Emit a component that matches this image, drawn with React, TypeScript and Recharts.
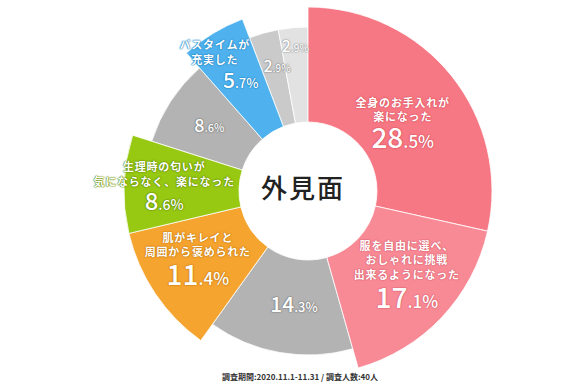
import React from 'react';
import { PieChart, Pie, Cell } from 'recharts';

const categories = [
  '全身のお手入れが\n楽になった',
  '服を自由に選べ、\nおしゃれに挑戦\n出来るようになった',
  'その他A',
  '肌がキレイと\n周囲から褒められた',
  '生理時の匂いが\n気にならなく、楽になった',
  'その他B',
  'バスタイムが\n充実した',
  'その他C',
  'その他D',
];
const values = [28.5, 17.1, 14.3, 11.4, 8.6, 8.6, 5.7, 2.9, 2.9];
const highlighted = [true, true, false, true, true, false, true, false, false];

const colors = ['#f67884', '#f88a96', '#b3b3b3', '#f5a42f', '#97c812', '#b3b3b3', '#4fb2ee', '#cacaca', '#e2e2e2'];
const shadows = ['#d8505e', '#d8606e', '#7a7a7a', '#c47a10', '#5f8a00', '#7a7a7a', '#2280bf', '#8a8a8a', '#9a9a9a'];

// label anchor (centre of the number's baseline), polar from the pie centre
const labelRadius = [104, 153, 122, 145, 145, 115, 139, 123, 140];
const labelAngleShift = [14.3, 6.4, -3.3, -6.7, -9.5, -2.2, -11, 1.1, 0];
const titleGap = [27, 29, 0, 29, 24, 0, 24, 0, 0];
const numberSize = [28, 28, 21, 28, 24, 18, 21, 16, 16];
const numberShift = [0, 0, 0, 0, 0, 0, 26, 0, 0];

const CX = 303;
const CY = 186;
const INNER = 69;
const OUTER_BIG = 184;
const OUTER = 164;
const FONT = '"Noto Sans CJK JP", "Noto Sans", sans-serif';

const data = categories.map((name, i) => ({ name, value: values[i] }));

const renderLabel = (props: any) => {
  const { cx, cy, midAngle, index } = props;
  const rad = Math.PI / 180;
  const r = labelRadius[index];
  const a = midAngle - labelAngleShift[index];
  const x = cx + r * Math.cos(-a * rad);
  const y = cy + r * Math.sin(-a * rad);
  const [intPart, decPart] = String(values[index]).split('.');
  const s = shadows[index];
  const shadow = `0 0 1px ${s}, 0 0 1px ${s}, 0 0 2px ${s}`;
  const big = numberSize[index];
  const small = Math.round(big * 0.6);

  const number = (
    <text
      x={x + numberShift[index]}
      y={y}
      textAnchor="middle"
      fill="#fff"
      fontFamily={FONT}
      fontWeight={500}
      style={{ textShadow: shadow }}
    >
      <tspan fontSize={big}>{intPart}</tspan>
      <tspan fontSize={small}>.{decPart}%</tspan>
    </text>
  );

  if (!highlighted[index]) return number;

  const lines = categories[index].split('\n');
  const n = lines.length;
  const lastBase = y - titleGap[index];
  return (
    <g>
      {lines.map((line, i) => (
        <text
          key={i}
          x={x}
          y={lastBase - (n - 1 - i) * 14.5}
          textAnchor="middle"
          fill="#fff"
          fontFamily={FONT}
          fontSize={11}
          fontWeight={700}
          letterSpacing={0.8}
          style={{ textShadow: shadow }}
        >
          {line}
        </text>
      ))}
      {number}
    </g>
  );
};

const App: React.FC = () => {
  return (
    <div style={{ position: 'absolute', left: 0, top: 0, width: 580, height: 387, background: '#fff' }}>
      <PieChart width={580} height={387}>
        <Pie
          data={data}
          dataKey="value"
          nameKey="name"
          cx={CX}
          cy={CY}
          innerRadius={INNER}
          outerRadius={OUTER}
          startAngle={90}
          endAngle={-270}
          isAnimationActive={false}
          label={false}
          labelLine={false}
        >
          {data.map((_, i) => (
            <Cell
              key={i}
              fill={highlighted[i] ? 'transparent' : colors[i]}
              stroke={highlighted[i] ? 'none' : '#fff'}
              strokeWidth={0.8}
            />
          ))}
        </Pie>
        <Pie
          data={data}
          dataKey="value"
          nameKey="name"
          cx={CX}
          cy={CY}
          innerRadius={INNER}
          outerRadius={OUTER_BIG}
          startAngle={90}
          endAngle={-270}
          isAnimationActive={false}
          label={renderLabel}
          labelLine={false}
        >
          {data.map((_, i) => (
            <Cell
              key={i}
              fill={highlighted[i] ? colors[i] : 'transparent'}
              stroke={highlighted[i] ? '#fff' : 'none'}
              strokeWidth={0.8}
            />
          ))}
        </Pie>
      </PieChart>
      <div
        style={{
          position: 'absolute',
          left: CX - 70,
          top: CY - 19,
          width: 140,
          textAlign: 'center',
          fontFamily: FONT,
          fontSize: 26,
          fontWeight: 500,
          letterSpacing: 2,
          lineHeight: '40px',
          color: '#222',
        }}
      >
        外見面
      </div>
      <div
        style={{
          position: 'absolute',
          left: 200,
          top: 371,
          width: 200,
          textAlign: 'center',
          fontFamily: FONT,
          fontSize: 8,
          fontWeight: 700,
          lineHeight: '12px',
          color: '#333',
          whiteSpace: 'nowrap',
        }}
      >
        調査期間:2020.11.1-11.31 / 調査人数:40人
      </div>
    </div>
  );
};

export default App;
